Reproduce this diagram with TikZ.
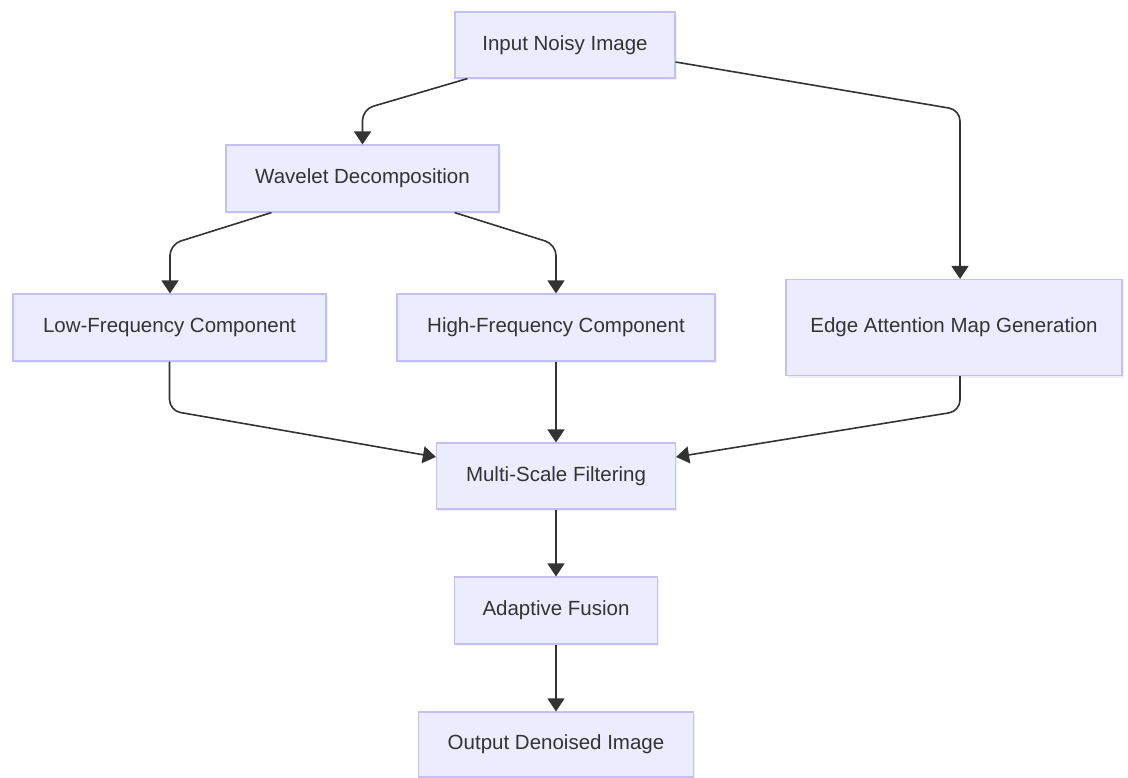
\documentclass[tikz,border=0pt]{standalone}
\usepackage{fontspec}
\setmainfont{Liberation Sans}
\usetikzlibrary{arrows.meta,calc,shadows}
\definecolor{boxfill}{HTML}{ECECFF}
\definecolor{boxline}{HTML}{C4C0F4}
\definecolor{linkc}{HTML}{333333}
\definecolor{txtc}{HTML}{333333}
\tikzset{
  flowbox/.style={draw=boxline, fill=boxfill, line width=1.2pt, inner sep=0pt,
    text=txtc, font=\fontsize{20.5}{24}\selectfont,
    drop shadow={opacity=0.12, shadow xshift=1.5pt, shadow yshift=-2pt}},
  link/.style={draw=linkc, line width=1.6pt, rounded corners=11pt,
    -{Triangle[width=17pt,length=13pt]}},
}
\begin{document}
\begin{tikzpicture}[x=1pt,y=-1pt]
\useasboundingbox (0,0) rectangle (1128,778);
\node[flowbox, minimum width=220pt, minimum height=66pt] (in) at (565,45) {Input Noisy Image};
\node[flowbox, minimum width=273pt, minimum height=67pt] (wav) at (362.5,178.5) {Wavelet Decomposition};
\node[flowbox, minimum width=313pt, minimum height=67pt] (low) at (169.5,327.5) {Low-Frequency Component};
\node[flowbox, minimum width=318pt, minimum height=67pt] (high) at (556,327.5) {High-Frequency Component};
\node[flowbox, minimum width=336pt, minimum height=96pt] (edge) at (954,327.5) {Edge Attention Map Generation};
\node[flowbox, minimum width=239pt, minimum height=66pt] (msf) at (556,476) {Multi-Scale Filtering};
\node[flowbox, minimum width=203pt, minimum height=67pt] (fus) at (556,610.5) {Adaptive Fusion};
\node[flowbox, minimum width=275pt, minimum height=65pt] (out) at (556,744.5) {Output Denoised Image};

% Input -> Wavelet
\draw[link] ($(in.south west)+(13,0)$) -- ($(wav.north)+(0,-35)$) -- (wav.north);
% Input -> Edge
\draw[link] ($(in.east)+(0,17)$) -- ($(edge.north)+(6,-169)$) -- ($(edge.north)+(6,0)$);
% Wavelet -> Low
\draw[link] ($(wav.south west)+(46,0)$) -- ($(low.north)+(0.5,-49)$) -- ($(low.north)+(0.5,0)$);
% Wavelet -> High
\draw[link] ($(wav.south east)+(-45,0)$) -- ($(high.north)+(0,-49)$) -- (high.north);
% Low -> Multi
\draw[link] (low.south) -- ($(low.south)+(0,49)$) -- ($(msf.west)+(0,-19)$);
% High -> Multi
\draw[link] (high.south) -- (msf.north);
% Edge -> Multi
\draw[link] ($(edge.south)+(6,0)$) -- ($(edge.south)+(6,35)$) -- ($(msf.east)+(0,-19)$);
% Multi -> Fusion
\draw[link] (msf.south) -- (fus.north);
% Fusion -> Output
\draw[link] (fus.south) -- (out.north);
\end{tikzpicture}
\end{document}
